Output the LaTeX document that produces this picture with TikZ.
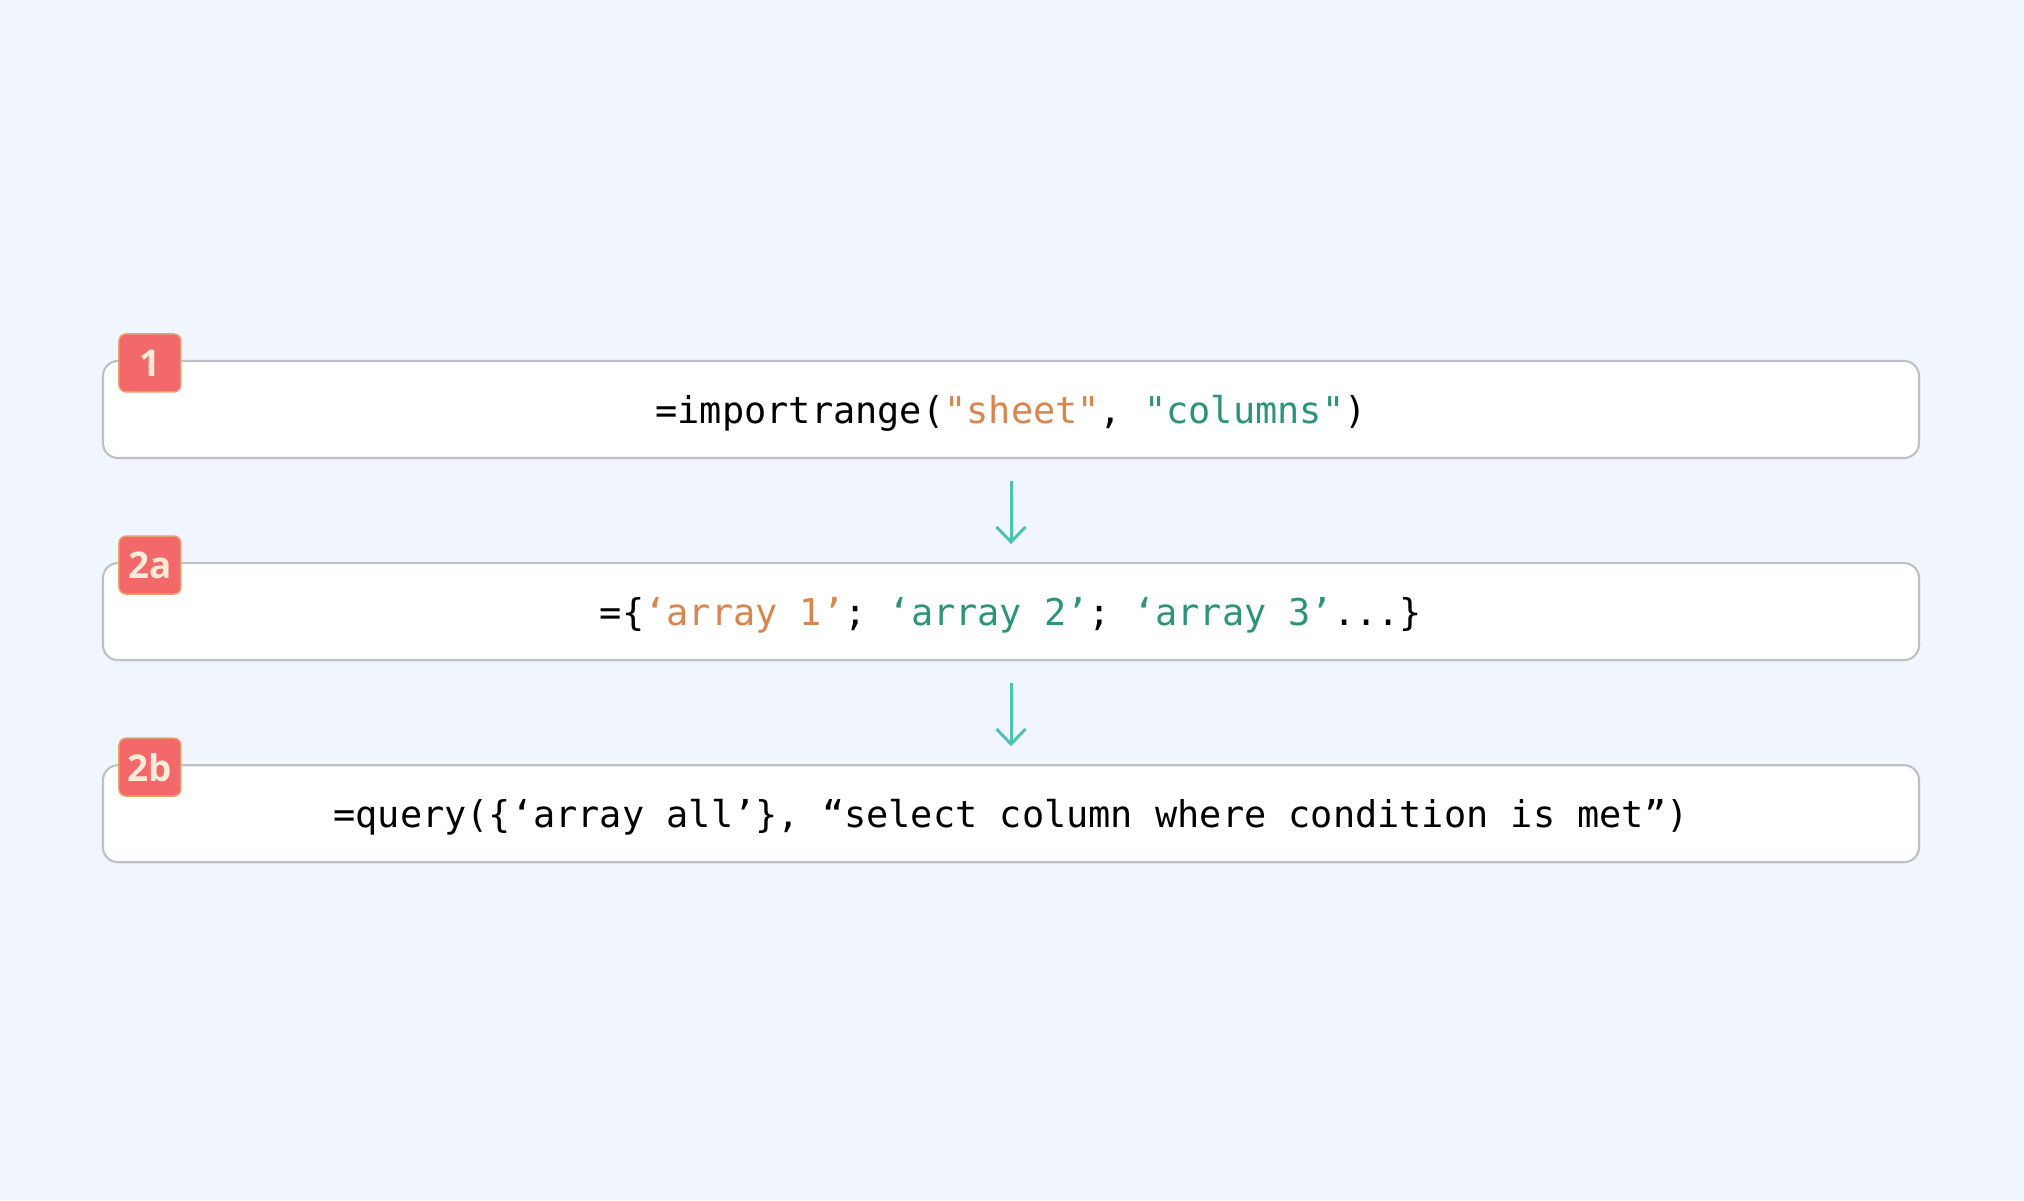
\documentclass[tikz,border=0pt]{standalone}
\usepackage{fontspec}
\setmainfont{Open Sans}
\setmonofont{DejaVu Sans Mono}
\usetikzlibrary{positioning,arrows.meta}

\definecolor{bgblue}{HTML}{F0F5FE}
\definecolor{boxgray}{HTML}{BFC0C6}
\definecolor{badgered}{HTML}{F36868}
\definecolor{badgeedge}{HTML}{E9A272}
\definecolor{badgetext}{HTML}{FCEBD8}
\definecolor{arrowteal}{HTML}{4EC2B2}
\definecolor{strorange}{HTML}{D7864F}
\definecolor{strgreen}{HTML}{2E9479}

\begin{document}
\begin{tikzpicture}[
    codebox/.style={draw=boxgray, line width=0.6pt, fill=white, rounded corners=0.15cm,
      minimum width=18.16cm, minimum height=0.97cm, text=black, text depth=0pt,
      font=\ttfamily\fontsize{10.5}{12}\selectfont},
    badge/.style={draw=badgeedge, line width=0.4pt, fill=badgered, rounded corners=0.07cm,
      minimum width=0.62cm, minimum height=0.58cm, inner sep=0pt, text=badgetext,
      font=\bfseries\fontsize{10.5}{12}\selectfont},
    flow/.style={draw=arrowteal, line width=0.85pt, -{Straight Barb[length=1.5mm, width=2.9mm]},
      shorten <=0.22cm, shorten >=0.18cm}
  ]
  \fill[bgblue] (0,0) rectangle (20.24,12);
  \useasboundingbox (0,0) rectangle (20.24,12);

  % code lines
  \node[codebox] (imp) at (10.11,7.905)
    {=importrange(\textcolor{strorange}{"sheet"}, \textcolor{strgreen}{"columns"})};
  \node[codebox, below=1.03cm of imp] (arr)
    {=\{\textcolor{strorange}{‘array 1’}; \textcolor{strgreen}{‘array 2’}; \textcolor{strgreen}{‘array 3’}...\}};
  \node[codebox, below=1.03cm of arr] (qry)
    {=query(\{‘array all’\}, “select column where condition is met”)};

  % step badges
  \node[badge] (b1) at ([xshift=0.48cm, yshift=-0.03cm]imp.north west) {1};
  \node[badge] (b2a) at ([xshift=0.48cm, yshift=-0.03cm]arr.north west) {2a};
  \node[badge] (b2b) at ([xshift=0.48cm, yshift=-0.03cm]qry.north west) {2b};

  \draw[flow] (imp) -- (arr);
  \draw[flow] (arr) -- (qry);
\end{tikzpicture}
\end{document}
